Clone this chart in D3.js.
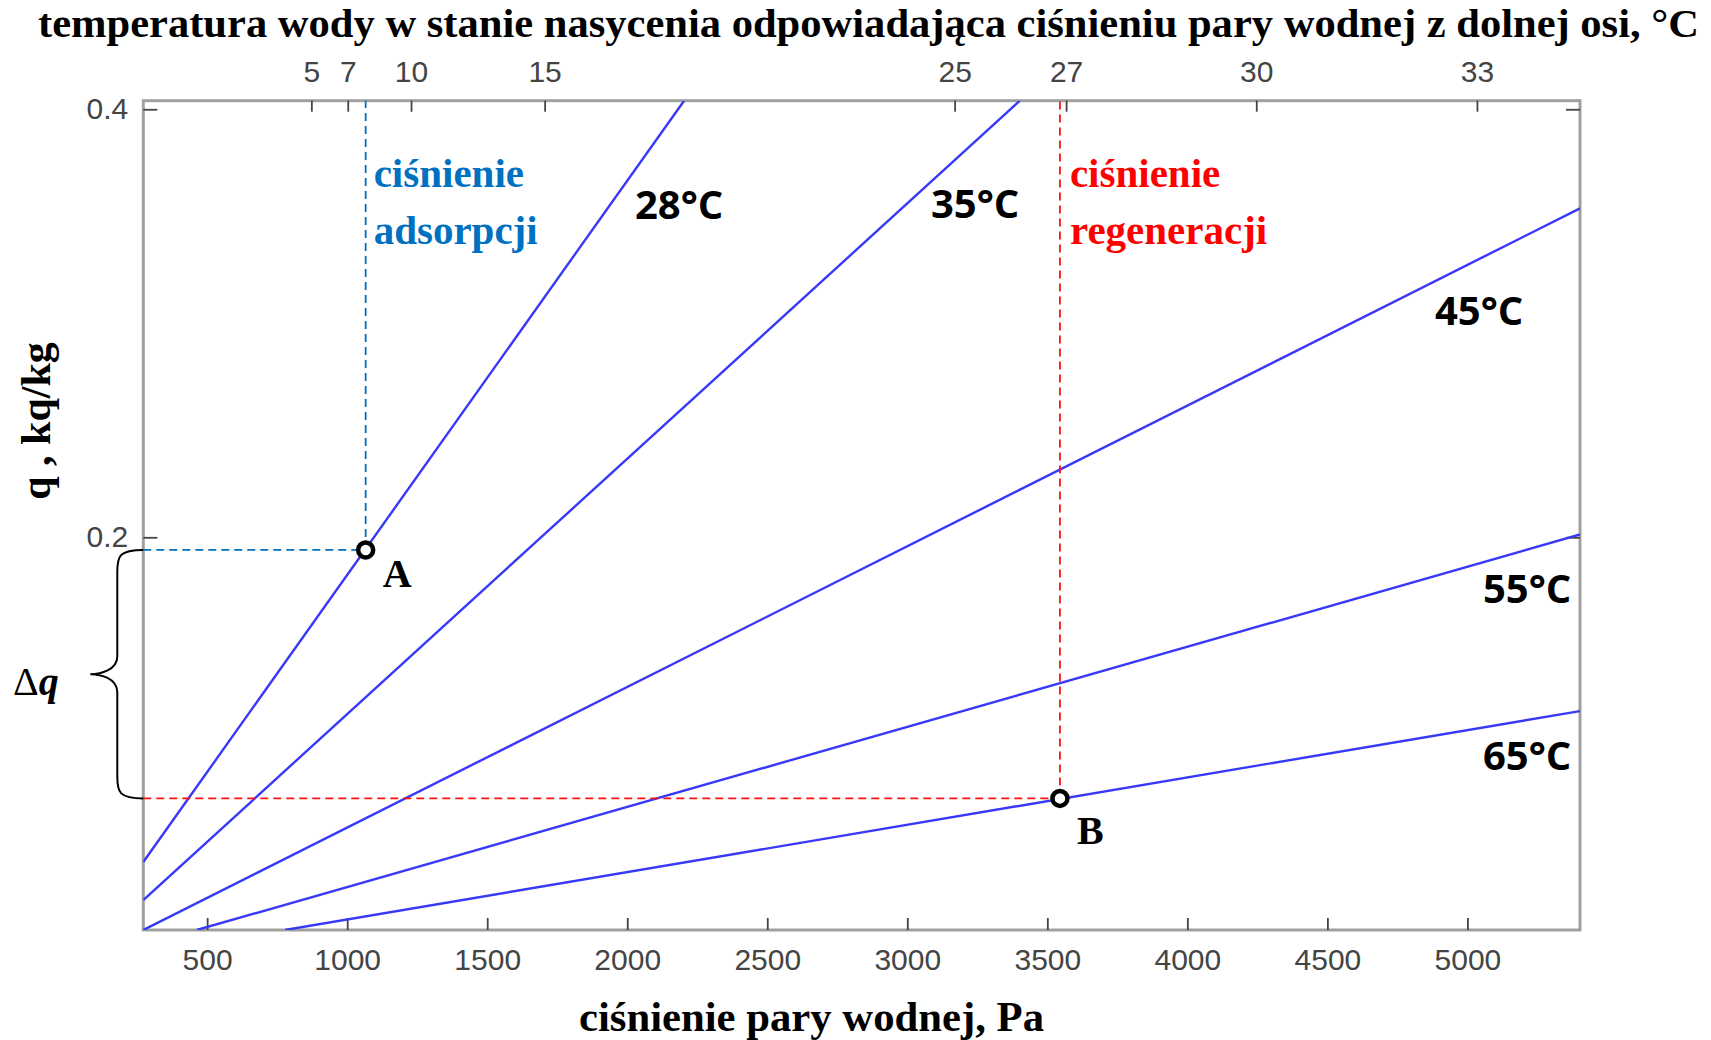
<!DOCTYPE html>
<html>
<head>
<meta charset="utf-8">
<script src="https://cdn.jsdelivr.net/npm/d3@7"></script>
<style>
  body { margin: 0; background: #fff; }
  .tick line { stroke: #444; stroke-width: 1.8; }
  .tick text { fill: #444; font-family: "Liberation Sans", Arial, sans-serif; font-size: 30px; }
  .axis .domain { display: none; }
  .serif { font-family: "Liberation Serif", "Times New Roman", serif; font-weight: bold; }
  .iso { font-family: "Open Sans", "Noto Sans", sans-serif; font-weight: bold; font-size: 40px; fill: #000; }
</style>
</head>
<body>
<svg width="1711" height="1040"></svg>
<script>
// bottom axis: water vapour pressure, Pa
var pressureTicks = [500, 1000, 1500, 2000, 2500, 3000, 3500, 4000, 4500, 5000];
// top axis: saturation temperature and its pressure
var topTemps = [5, 7, 10, 15, 25, 27, 30, 33];
var topPressures = [872, 1002, 1228, 1705, 3169, 3567, 4246, 5034];
var qTicks = [0.2, 0.4];

// isotherms (straight lines, endpoints)
var isoNames = ["28°C", "35°C", "45°C", "55°C", "65°C"];
var isoStartP = [272, 272, 272, 463, 778];
var isoStartQ = [0.0483, 0.0305, 0.0165, 0.0165, 0.0165];
var isoEndP = [2203, 3402, 5402, 5402, 5402];
var isoEndQ = [0.404, 0.404, 0.3537, 0.2013, 0.1188];

// points A (adsorption) and B (regeneration)
var pointNames = ["A", "B"];
var pointP = [1066, 3545];
var pointQ = [0.1941, 0.078];

var svg = d3.select("svg");
var plotL = 143.3, plotR = 1580, plotT = 100.7, plotB = 930;

var x = d3.scaleLinear().domain([272, 5402]).range([plotL, plotR]);
var y = d3.scaleLinear().domain([0.0165, 0.404]).range([plotB, plotT]);

// frame
svg.append("rect")
    .attr("x", plotL).attr("y", plotT)
    .attr("width", plotR - plotL).attr("height", plotB - plotT)
    .attr("fill", "none")
    .attr("stroke", "#a0a0a0")
    .attr("stroke-width", 3);

svg.append("g")
    .attr("class", "axis")
    .attr("transform", "translate(0," + plotB + ")")
    .call(d3.axisBottom(x).tickValues(pressureTicks).tickSize(-12).tickPadding(19).tickFormat(d3.format("d")));

svg.append("g")
    .attr("class", "axis")
    .attr("transform", "translate(0," + plotT + ")")
    .call(d3.axisTop(x).tickValues(topPressures).tickSize(-11).tickPadding(19)
      .tickFormat(function(d, i) { return topTemps[i]; }));

svg.append("g")
    .attr("class", "axis")
    .attr("transform", "translate(" + plotL + ",0)")
    .call(d3.axisLeft(y).tickValues(qTicks).tickSize(-14).tickPadding(15).tickFormat(d3.format(".1f")));

svg.append("g")
    .attr("class", "axis")
    .attr("transform", "translate(" + plotR + ",0)")
    .call(d3.axisRight(y).tickValues(qTicks).tickSize(-14).tickFormat(""));

// isotherm lines
svg.append("clipPath").attr("id", "plot")
  .append("rect").attr("x", plotL).attr("y", plotT).attr("width", plotR - plotL).attr("height", plotB - plotT);

var line = d3.line()
    .x(function(d) { return x(d[0]); })
    .y(function(d) { return y(d[1]); });

var iso = isoNames.map(function(n, i) {
  return [[isoStartP[i], isoStartQ[i]], [isoEndP[i], isoEndQ[i]]];
});

svg.append("g").attr("clip-path", "url(#plot)")
  .selectAll("path").data(iso).enter().append("path")
    .attr("d", line)
    .attr("fill", "none")
    .attr("stroke", "#3838f8")
    .attr("stroke-width", 2.4);

// dashed guides
var guideColors = ["#0070c0", "#ff1010"];
pointNames.forEach(function(n, i) {
  var g = svg.append("g")
      .attr("fill", "none")
      .attr("stroke", guideColors[i])
      .attr("stroke-width", 1.8)
      .attr("stroke-dasharray", "8,5");
  g.append("path").attr("d", line([[x.domain()[0], pointQ[i]], [pointP[i], pointQ[i]]]));
  g.append("path").attr("d", line([[pointP[i], pointQ[i]], [pointP[i], y.domain()[1]]]));
});

// points
svg.selectAll("circle.pt").data(pointNames).enter().append("circle")
    .attr("class", "pt")
    .attr("cx", function(d, i) { return x(pointP[i]); })
    .attr("cy", function(d, i) { return y(pointQ[i]); })
    .attr("r", 7.5)
    .attr("fill", "#fff")
    .attr("stroke", "#000")
    .attr("stroke-width", 4.5);

svg.append("text").attr("class", "serif").attr("font-size", 40)
    .attr("x", x(pointP[0]) + 17).attr("y", y(pointQ[0]) + 37).text("A");
svg.append("text").attr("class", "serif").attr("font-size", 40)
    .attr("x", x(pointP[1]) + 17).attr("y", y(pointQ[1]) + 46).text("B");

// isotherm labels
var isoLabelPos = [[635, 219], [931, 218], [1435, 325], [1483, 603], [1483, 770]];
svg.selectAll("text.iso").data(isoNames).enter().append("text")
    .attr("class", "iso")
    .attr("x", function(d, i) { return isoLabelPos[i][0]; })
    .attr("y", function(d, i) { return isoLabelPos[i][1]; })
    .text(function(d) { return d; });

// pressure annotations
function twoLines(x0, color, a, b) {
  var t = svg.append("text").attr("class", "serif").attr("font-size", 41).attr("fill", color);
  t.append("tspan").attr("x", x0).attr("y", 187).text(a);
  t.append("tspan").attr("x", x0).attr("y", 244).text(b);
}
twoLines(x(pointP[0]) + 8, "#0070c0", "ciśnienie", "adsorpcji");
twoLines(x(pointP[1]) + 10, "#ff0000", "ciśnienie", "regeneracji");

// brace for delta q
var ya = y(pointQ[0]), yb = y(pointQ[1]), ym = (ya + yb) / 2;
var bx = plotL - 26, tip = plotL - 53;
svg.append("path")
    .attr("d", "M" + plotL + "," + ya +
      " C" + (bx + 2) + "," + ya + " " + bx + "," + (ya + 6) + " " + bx + "," + (ya + 22) +
      " L" + bx + "," + (ym - 18) +
      " C" + bx + "," + (ym - 4) + " " + (tip + 10) + "," + ym + " " + tip + "," + ym +
      " C" + (tip + 10) + "," + ym + " " + bx + "," + (ym + 4) + " " + bx + "," + (ym + 18) +
      " L" + bx + "," + (yb - 22) +
      " C" + bx + "," + (yb - 6) + " " + (bx + 2) + "," + yb + " " + plotL + "," + yb)
    .attr("fill", "none")
    .attr("stroke", "#000")
    .attr("stroke-width", 2);

var dq = svg.append("text").attr("font-family", "Liberation Serif, serif").attr("font-size", 40)
    .attr("x", 13).attr("y", ym + 21);
dq.append("tspan").text("Δ");
dq.append("tspan").attr("font-weight", "bold").attr("font-style", "italic").text("q");

// titles
svg.append("text").attr("class", "serif").attr("font-size", 41)
    .attr("x", 38).attr("y", 37)
    .attr("textLength", 1661).attr("lengthAdjust", "spacingAndGlyphs")
    .text("temperatura wody w stanie nasycenia odpowiadająca ciśnieniu pary wodnej z dolnej osi, °C");

svg.append("text").attr("class", "serif").attr("font-size", 42)
    .attr("x", 579).attr("y", 1031)
    .attr("textLength", 465).attr("lengthAdjust", "spacingAndGlyphs")
    .text("ciśnienie pary wodnej, Pa");

svg.append("text").attr("class", "serif").attr("font-size", 42)
    .attr("text-anchor", "middle")
    .attr("transform", "translate(50,421) rotate(-90)")
    .text("q , kq/kg");
</script>
</body>
</html>
